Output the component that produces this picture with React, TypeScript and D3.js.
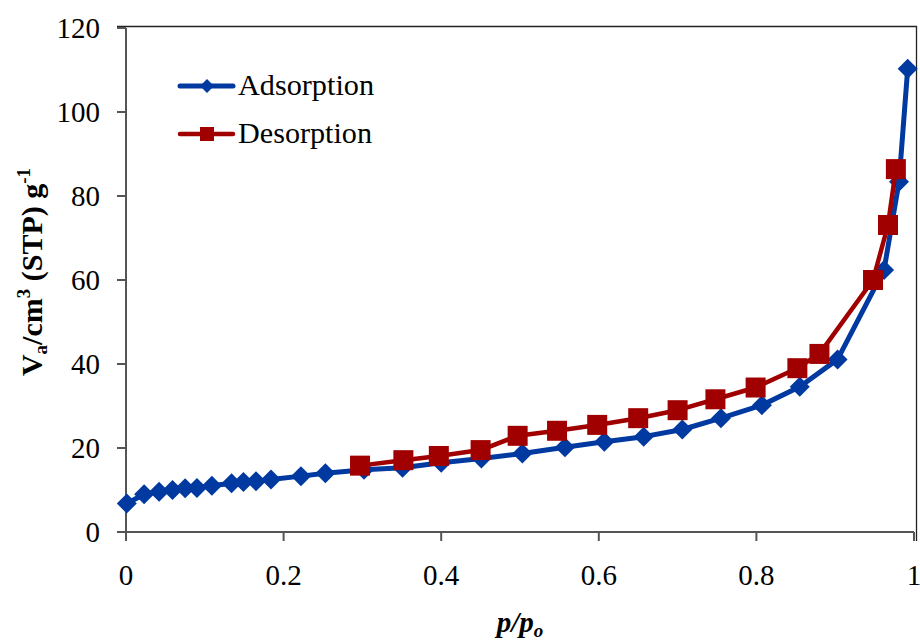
import * as d3 from 'd3';

const width = 920;
const height = 644;

// adsorption branch (p/p0, volume)
const adsP = [0.001, 0.023, 0.042, 0.059, 0.075, 0.09, 0.109, 0.134, 0.149, 0.165, 0.184, 0.222, 0.253, 0.302, 0.351, 0.4, 0.451, 0.503, 0.557, 0.607, 0.657, 0.706, 0.755, 0.807, 0.855, 0.903, 0.962, 0.981, 0.992];
const adsV = [6.8, 9.0, 9.6, 10.0, 10.4, 10.5, 11.0, 11.6, 11.9, 12.1, 12.5, 13.3, 14.0, 14.8, 15.3, 16.5, 17.5, 18.7, 20.2, 21.5, 22.7, 24.4, 27.1, 30.2, 34.6, 41.1, 62.4, 83.4, 110.3];

// desorption branch
const desP = [0.297, 0.352, 0.397, 0.45, 0.497, 0.547, 0.598, 0.65, 0.7, 0.748, 0.799, 0.852, 0.88, 0.948, 0.967, 0.977];
const desV = [15.8, 17.1, 18.1, 19.5, 22.9, 24.1, 25.5, 27.1, 29.0, 31.6, 34.4, 39.0, 42.4, 60.0, 73.1, 86.4];

const xTicks = [0, 0.2, 0.4, 0.6, 0.8, 1];
const yTicks = [0, 20, 40, 60, 80, 100, 120];

const blue = '#0039a0';
const red = '#a00000';
const axisCol = '#555';
const font = "'Liberation Serif', 'Times New Roman', serif";

export default function App() {
  const x = d3.scaleLinear().domain([0, 1]).range([126, 914]);
  const y = d3.scaleLinear().domain([0, 120]).range([532, 28]);

  const ads = adsP.map((p, i) => [p, adsV[i]] as [number, number]);
  const des = desP.map((p, i) => [p, desV[i]] as [number, number]);

  const line = d3.line<[number, number]>().x(d => x(d[0])).y(d => y(d[1]));

  const diamond = (cx: number, cy: number, r: number) =>
    `M${cx},${cy - r}L${cx + r},${cy}L${cx},${cy + r}L${cx - r},${cy}Z`;

  return (
    <svg width={width} height={height} style={{ position: 'absolute', left: 0, top: 0, background: '#fff', fontFamily: font }}>
      {/* frame top/right */}
      <path d={`M117,26.5H916.5V541`} fill="none" stroke="#222" strokeWidth={1.3} />

      {/* axes */}
      <line x1={x(0)} x2={x(1)} y1={y(0)} y2={y(0)} stroke={axisCol} strokeWidth={2} />
      <line x1={x(0)} x2={x(0)} y1={y(0)} y2={y(120)} stroke={axisCol} strokeWidth={2} />
      {yTicks.map(t => (
        <g key={'y' + t}>
          <line x1={117} x2={x(0)} y1={y(t)} y2={y(t)} stroke={axisCol} strokeWidth={2} />
          <text x={100} y={y(t)} dy="0.35em" textAnchor="end" fontSize={29} fill="#000">{t}</text>
        </g>
      ))}
      {xTicks.map(t => (
        <g key={'x' + t}>
          <line x1={x(t)} x2={x(t)} y1={y(0)} y2={541} stroke={axisCol} strokeWidth={2} />
          <text x={x(t)} y={585} textAnchor="middle" fontSize={29} fill="#000">{d3.format('~g')(t)}</text>
        </g>
      ))}

      {/* axis titles */}
      <text x={520} y={632} textAnchor="middle" fontSize={29} fontWeight="bold" fontStyle="italic">
        p/p<tspan fontSize={19} dy={5}>o</tspan>
      </text>
      <text transform="translate(42,272) rotate(-90)" textAnchor="middle" fontSize={30} fontWeight="bold">
        V<tspan fontSize={19} dy={5}>a</tspan><tspan dy={-5}>/cm</tspan><tspan fontSize={19} dy={-12}>3</tspan><tspan dy={12}> (STP) g</tspan><tspan fontSize={19} dy={-12}>-1</tspan>
      </text>

      {/* adsorption */}
      <path d={line(ads) ?? ''} fill="none" stroke={blue} strokeWidth={5} strokeLinejoin="round" />
      {ads.map((d, i) => (
        <path key={'a' + i} d={diamond(x(d[0]), y(d[1]), 10)} fill={blue} />
      ))}

      {/* desorption */}
      <path d={line(des) ?? ''} fill="none" stroke={red} strokeWidth={4.5} strokeLinejoin="round" />
      {des.map((d, i) => (
        <rect key={'d' + i} x={x(d[0]) - 10} y={y(d[1]) - 10} width={20} height={20} fill={red} />
      ))}

      {/* legend */}
      <line x1={180} x2={233} y1={86} y2={86} stroke={blue} strokeWidth={5} strokeLinecap="round" />
      <path d={diamond(207, 86, 7)} fill={blue} />
      <text x={238} y={95} fontSize={29} fill="#000" textLength={136} lengthAdjust="spacingAndGlyphs">Adsorption</text>
      <line x1={180} x2={233} y1={134} y2={134} stroke={red} strokeWidth={4.5} strokeLinecap="round" />
      <rect x={200} y={127} width={14} height={14} fill={red} />
      <text x={238} y={143} fontSize={29} fill="#000" textLength={134} lengthAdjust="spacingAndGlyphs">Desorption</text>
    </svg>
  );
}
